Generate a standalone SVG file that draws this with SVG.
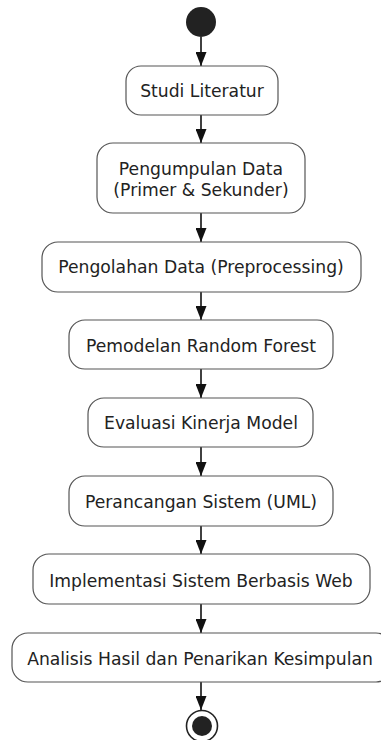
<svg xmlns="http://www.w3.org/2000/svg" width="381" height="740" viewBox="0 0 381 740">
<defs>
<style>
.box{fill:#fff;stroke:#555;stroke-width:1.2}
.t{font-family:"DejaVu Sans",sans-serif;font-size:17.2px;fill:#222;text-anchor:middle}
.c{stroke:#111;stroke-width:1.6;fill:none}
</style>
<marker id="a2" markerWidth="14" markerHeight="11" refX="14" refY="5.5" orient="auto" markerUnits="userSpaceOnUse" viewBox="0 0 14 11">
<path d="M0,0 L14,5.5 L0,11 Z" fill="#111"/>
</marker>
</defs>
<g id="start"><circle cx="201" cy="22" r="15" fill="#222"/></g>
<g id="connectors">
<line class="c" x1="201" y1="37" x2="201" y2="66" marker-end="url(#a2)"/>
<line class="c" x1="201" y1="115" x2="201" y2="143" marker-end="url(#a2)"/>
<line class="c" x1="201" y1="213" x2="201" y2="242" marker-end="url(#a2)"/>
<line class="c" x1="201" y1="292" x2="201" y2="320" marker-end="url(#a2)"/>
<line class="c" x1="201" y1="369" x2="201" y2="398" marker-end="url(#a2)"/>
<line class="c" x1="201" y1="447" x2="201" y2="476" marker-end="url(#a2)"/>
<line class="c" x1="201" y1="526" x2="201" y2="554" marker-end="url(#a2)"/>
<line class="c" x1="201" y1="604" x2="201" y2="633" marker-end="url(#a2)"/>
<line class="c" x1="201" y1="682" x2="201" y2="710" marker-end="url(#a2)"/>
</g>
<g id="n1"><rect class="box" x="126" y="66" width="152" height="49" rx="15"/><text class="t" x="202" y="97">Studi Literatur</text></g>
<g id="n2"><rect class="box" x="97" y="143" width="208" height="70" rx="16"/><text class="t" x="201" y="175">Pengumpulan Data</text><text class="t" x="201" y="196">(Primer &amp; Sekunder)</text></g>
<g id="n3"><rect class="box" x="42" y="242" width="319" height="50" rx="16"/><text class="t" x="201" y="273">Pengolahan Data (Preprocessing)</text></g>
<g id="n4"><rect class="box" x="69" y="320" width="264" height="49" rx="16"/><text class="t" x="201" y="352">Pemodelan Random Forest</text></g>
<g id="n5"><rect class="box" x="88" y="398" width="225" height="49" rx="16"/><text class="t" x="201" y="429">Evaluasi Kinerja Model</text></g>
<g id="n6"><rect class="box" x="69" y="476" width="264" height="50" rx="16"/><text class="t" x="201" y="508">Perancangan Sistem (UML)</text></g>
<g id="n7"><rect class="box" x="33" y="554" width="337" height="50" rx="16"/><text class="t" x="201" y="587">Implementasi Sistem Berbasis Web</text></g>
<g id="n8"><rect class="box" x="12" y="633" width="380" height="49" rx="16"/><text class="t" x="200" y="665">Analisis Hasil dan Penarikan Kesimpulan</text></g>
<g id="end"><circle cx="202" cy="726" r="15.5" fill="#fff" stroke="#222" stroke-width="1.6"/><circle cx="202" cy="726" r="10" fill="#222"/></g>
</svg>
